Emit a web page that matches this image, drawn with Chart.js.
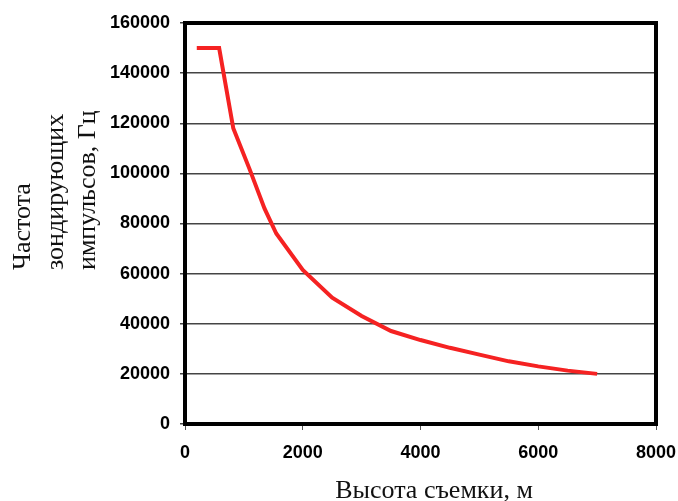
<!DOCTYPE html>
<html>
<head>
<meta charset="utf-8">
<script src="https://cdn.jsdelivr.net/npm/chart.js@4"></script>
<style>
  html, body { margin: 0; padding: 0; background: #fff; }
  #wrap { width: 678px; height: 501px; }
</style>
</head>
<body>
<div id="wrap"><canvas id="chart" width="678" height="501"></canvas></div>
<script>
// Высота съемки, м
var heights = [200, 580, 820, 1100, 1350, 1550, 2000, 2500, 3000, 3500, 4000, 4500, 5000, 5500, 6000, 6500, 7000];
// Частота зондирующих импульсов, Гц
var freqs = [150000, 150000, 118000, 101500, 86000, 76000, 61500, 50400, 43100, 37100, 33500, 30400, 27700, 25000, 23000, 21300, 20000];

var yTitleLines = ['Частота', 'зондирующих', 'импульсов, Гц'];
var xTitle = 'Высота съемки, м';

var points = heights.map(function (h, i) { return { x: h, y: freqs[i] }; });

// frame round the plot + the hand placed axis titles
var framePlugin = {
    id: 'frame',
    afterDraw: function (chart) {
        var ctx = chart.ctx, a = chart.chartArea;
        ctx.save();
        ctx.strokeStyle = '#000';
        ctx.lineWidth = 4;
        ctx.strokeRect(a.left, a.top, a.right - a.left, a.bottom - a.top);

        ctx.fillStyle = '#111';
        ctx.font = '26px "Liberation Serif", "Times New Roman", serif';
        ctx.textAlign = 'center';
        ctx.textBaseline = 'alphabetic';
        ctx.fillText(xTitle, 434, 498);

        ctx.textAlign = 'left';
        var cols = [30, 62.5, 95];
        yTitleLines.forEach(function (t, i) {
            ctx.save();
            ctx.translate(cols[i], 270);
            ctx.rotate(-Math.PI / 2);
            ctx.fillText(t, 0, 0);
            ctx.restore();
        });
        ctx.restore();
    }
};

var tickFont = { family: '"Liberation Sans", Arial, sans-serif', size: 18, weight: 'bold' };
var plain = function (v) { return String(v); };

new Chart(document.getElementById('chart'), {
    type: 'line',
    data: {
        datasets: [{
            data: points,
            borderColor: '#f52222',
            borderWidth: 4,
            pointRadius: 0,
            tension: 0,
            fill: false
        }]
    },
    options: {
        responsive: false,
        animation: false,
        layout: { padding: { left: 0, right: 22, top: 23, bottom: 0 } },
        plugins: { legend: { display: false }, tooltip: { enabled: false } },
        scales: {
            x: {
                type: 'linear',
                min: 0, max: 8000,
                afterFit: function (s) { s.height = 77; s.paddingLeft = 0; s.paddingRight = 0; },
                ticks: { stepSize: 2000, color: '#000', font: tickFont, padding: 12, callback: plain },
                grid: { drawOnChartArea: false, drawTicks: true, tickLength: 6, color: '#555', lineWidth: 1 },
                border: { display: true, color: '#000', width: 4 }
            },
            y: {
                min: 0, max: 160000,
                afterFit: function (s) { s.width = 185; s.paddingTop = 0; s.paddingBottom = 0; },
                ticks: { stepSize: 20000, color: '#000', font: tickFont, padding: 10, callback: plain },
                grid: { color: '#444', lineWidth: 1.5, tickLength: 5 },
                border: { display: true, color: '#000', width: 4 }
            }
        }
    },
    plugins: [framePlugin]
});
</script>
</body>
</html>
